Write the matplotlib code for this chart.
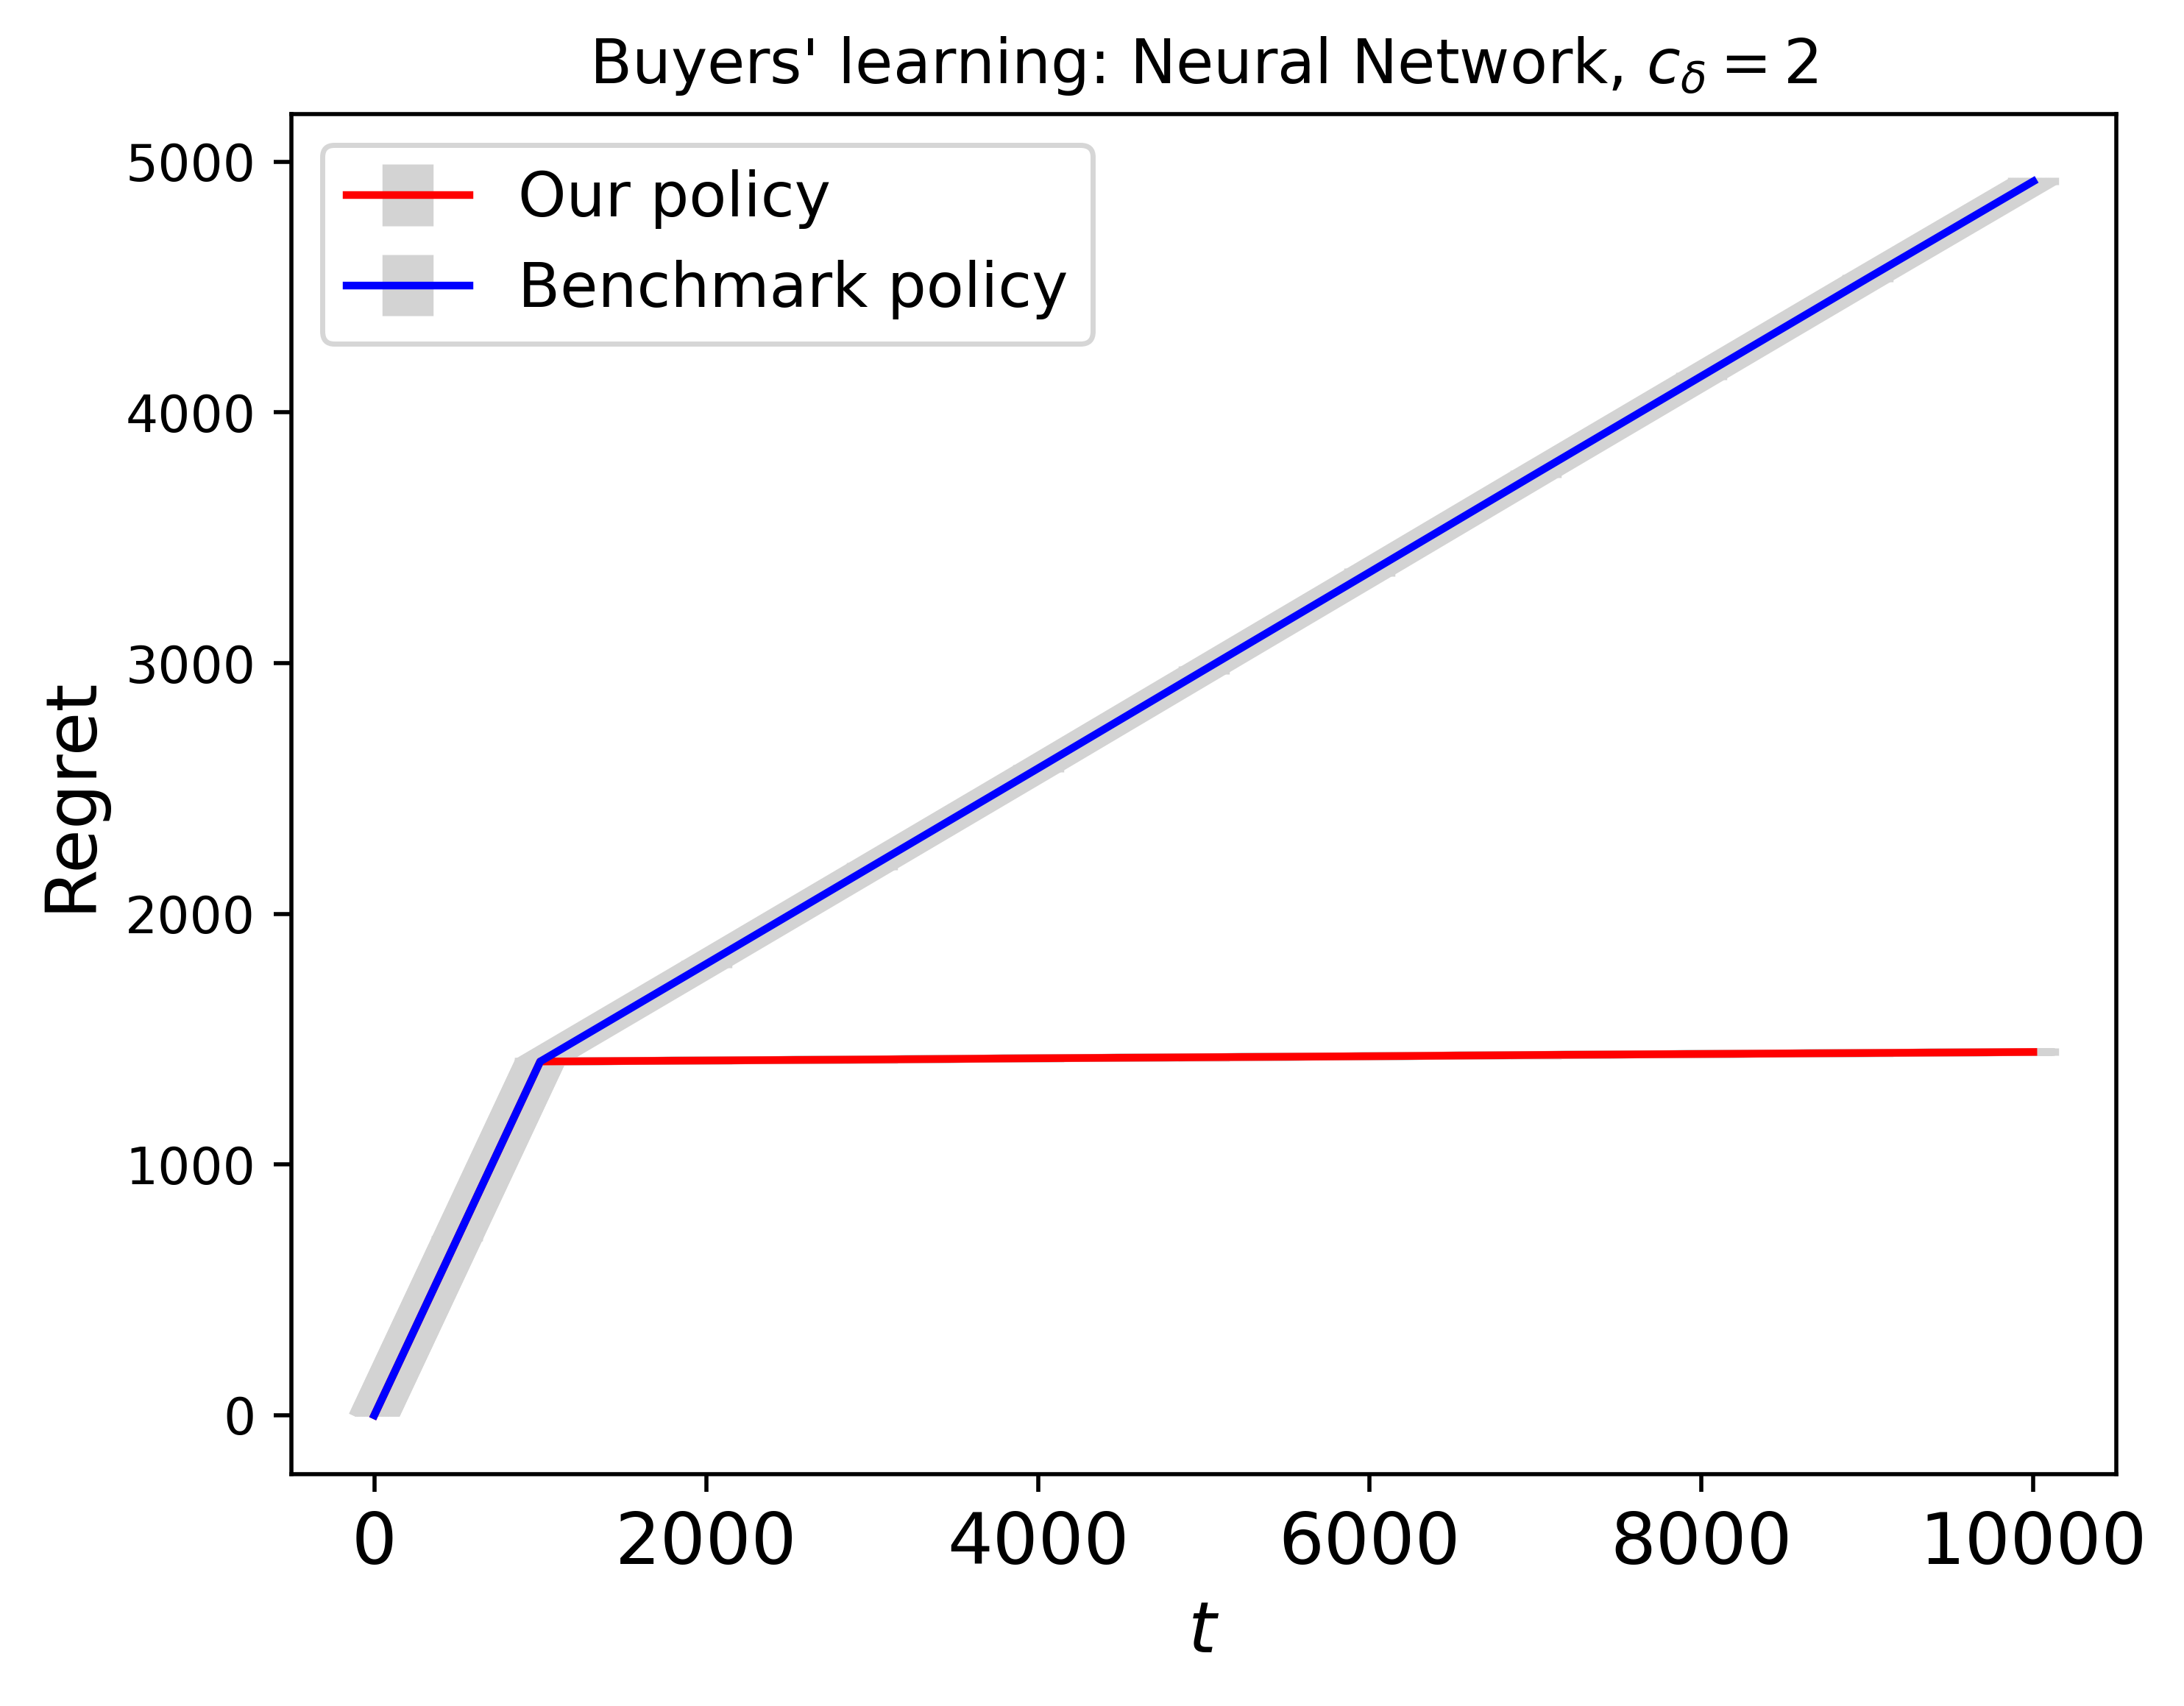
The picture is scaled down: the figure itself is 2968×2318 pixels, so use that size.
import numpy as np
import matplotlib
matplotlib.use('Agg')
import matplotlib.pyplot as plt
import matplotlib.patheffects as pe

# Valores
t = [0, 500, 1000, 2000, 3000, 4000, 5000, 6000, 7000, 8000, 9000, 10000]
regret_ours = [0, 705, 1411, 1415, 1419, 1424, 1428, 1432, 1437, 1441, 1445, 1449]
regret_bench = [0, 705, 1411, 1800, 2190, 2580, 2972, 3363, 3755, 4145, 4535, 4922]
std_ours = [0, 10, 15, 15, 15, 15, 15, 15, 15, 15, 15, 15]
std_bench = [0, 10, 15, 15, 15, 15, 15, 15, 15, 15, 15, 15]

title = "Buyers' learning: Neural Network, $c_\\delta = 2$"
labels = ['Our policy', 'Benchmark policy']
cores = ['red', 'blue']

# faixa cinza: traços deslocados na horizontal (largura total de 10 pt)
desloc = np.arange(-4.25, 4.26, 0.25)
faixa = [pe.Stroke(offset=(dx, 0), linewidth=1.5, foreground='lightgray') for dx in desloc]

fig = plt.figure(figsize=(5.936, 4.636), dpi=500)
ax = fig.add_axes([0.1334, 0.1359, 0.8356, 0.7972])

for y, s, c, lab in zip([regret_ours, regret_bench], [std_ours, std_bench], cores, labels):
    ax.plot(t, y, color='lightgray', lw=1.5, solid_capstyle='butt',
            path_effects=faixa, zorder=1.9)
    ax.errorbar(t, y, yerr=s, color=c, ecolor='lightgray', elinewidth=10,
                label=lab, zorder=2)

ax.set_xlim(-500, 10500)
ax.set_ylim(-235, 5190)
ax.tick_params(axis='x', labelsize=14)
ax.set_xlabel('$t$', fontsize=14)
ax.set_ylabel('Regret', fontsize=14)
ax.set_title(title, fontsize=12)
ax.legend(loc='upper left', fontsize=12)

fig.savefig('out.png', dpi=500)
plt.close()
